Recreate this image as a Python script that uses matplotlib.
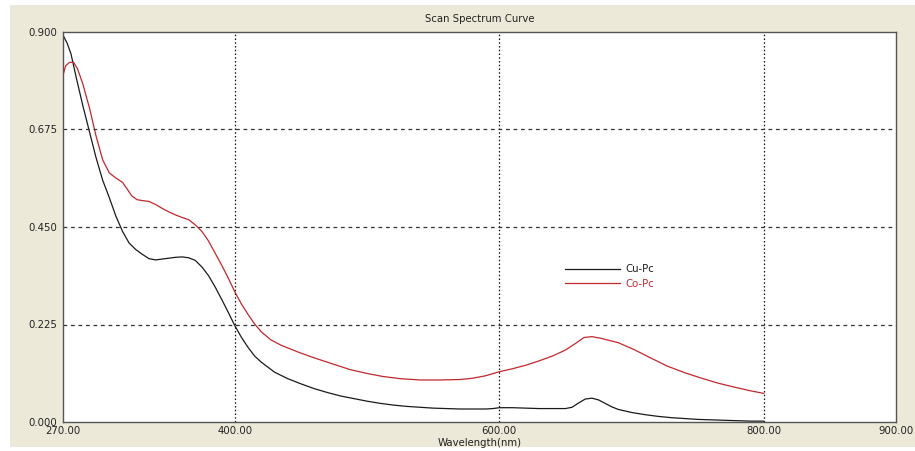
import matplotlib
matplotlib.use("Agg")
import matplotlib.pyplot as plt
from matplotlib.patches import Rectangle
from matplotlib.lines import Line2D

# ---- data ----
cu_wl = [270, 273, 276, 280, 285, 290, 295, 300, 305, 310, 315, 320, 325, 330, 335, 340,
         345, 350, 355, 360, 365, 370, 375, 380, 385, 390, 395, 400, 405, 410, 415, 420,
         430, 440, 450, 460, 470, 480, 490, 500, 510, 520, 530, 540, 550, 560, 570, 580,
         590, 595, 600, 605, 610, 620, 630, 640, 650, 655, 660, 665, 670, 675, 680, 685,
         690, 700, 710, 720, 730, 740, 750, 760, 770, 780, 790, 800]
cu_abs = [0.893, 0.875, 0.850, 0.795, 0.730, 0.670, 0.610, 0.558, 0.518, 0.475, 0.440, 0.413,
          0.398, 0.387, 0.377, 0.374, 0.376, 0.378, 0.380, 0.381, 0.379, 0.373, 0.358, 0.338,
          0.312, 0.283, 0.253, 0.222, 0.195, 0.172, 0.152, 0.138, 0.115, 0.100, 0.088, 0.077,
          0.068, 0.060, 0.054, 0.048, 0.043, 0.039, 0.036, 0.034, 0.032, 0.031, 0.030, 0.030,
          0.030, 0.031, 0.033, 0.033, 0.033, 0.032, 0.031, 0.031, 0.031, 0.034, 0.044, 0.053,
          0.055, 0.051, 0.043, 0.035, 0.029, 0.022, 0.017, 0.013, 0.010, 0.008, 0.006, 0.005,
          0.004, 0.003, 0.002, 0.002]

co_wl = [270, 272, 275, 278, 281, 285, 290, 295, 300, 305, 310, 315, 318, 322, 326, 330,
         335, 340, 345, 350, 355, 360, 365, 370, 375, 380, 385, 390, 395, 400, 405, 410,
         415, 420, 427, 435, 449, 460, 475, 487, 500, 512, 525, 540, 555, 570, 580, 590,
         600, 610, 620, 630, 640, 650, 658, 664, 670, 677, 690, 702, 715, 727, 740, 752,
         765, 777, 790, 800]
co_abs = [0.800, 0.822, 0.830, 0.830, 0.815, 0.780, 0.725, 0.660, 0.605, 0.575, 0.563, 0.553,
          0.540, 0.522, 0.513, 0.511, 0.509, 0.502, 0.493, 0.485, 0.478, 0.472, 0.467, 0.455,
          0.440, 0.418, 0.390, 0.362, 0.332, 0.300, 0.272, 0.248, 0.226, 0.208, 0.190, 0.177,
          0.160, 0.148, 0.133, 0.121, 0.112, 0.105, 0.100, 0.097, 0.097, 0.098, 0.101, 0.107,
          0.116, 0.123, 0.131, 0.141, 0.152, 0.166, 0.182, 0.195, 0.197, 0.193, 0.183, 0.167,
          0.147, 0.129, 0.114, 0.102, 0.090, 0.081, 0.072, 0.066]

x_ticks = [270, 400, 600, 800, 900]
y_ticks = [0.000, 0.225, 0.450, 0.675, 0.900]
series_names = ["Cu-Pc", "Co-Pc"]
series_colors = ["#1a1a1a", "#c0282d"]

# ---- figure ----
plt.rcParams['font.family'] = ['DejaVu Sans']
W, H = 915, 451
fig = plt.figure(figsize=(W / 100, H / 100), dpi=100)
fig.patch.set_facecolor("white")
fig.patches.append(Rectangle((10 / W, 4 / H), 905 / W, 442 / H, transform=fig.transFigure,
                             facecolor="#ece9d8", edgecolor="none", zorder=0))

ax = fig.add_axes([63 / W, (H - 422) / H, (896 - 63) / W, (422 - 32) / H])
ax.set_facecolor("white")
ax.set_zorder(1)

ax.plot(cu_wl, cu_abs, color=series_colors[0], lw=0.9)
ax.plot(co_wl, co_abs, color=series_colors[1], lw=0.9)

ax.set_xlim(x_ticks[0], x_ticks[-1])
ax.set_ylim(y_ticks[0], y_ticks[-1])
ax.set_xticks(x_ticks)
ax.set_yticks(y_ticks)
ax.set_xticklabels([f"{v:.2f}" for v in x_ticks])
ax.set_yticklabels([f"{v:.3f}" for v in y_ticks])
ax.tick_params(length=0, labelsize=7.3, colors="#222222", pad=4)
ax.tick_params(axis="x", pad=3)

for v in x_ticks[1:-1]:
    ax.axvline(v, color="#111111", lw=0.9, ls=(0, (1.2, 1.8)))
for h in y_ticks[1:-1]:
    ax.axhline(h, color="#333333", lw=0.9, ls=(0, (3, 3)))

for s in ax.spines.values():
    s.set_color("#555555")
    s.set_linewidth(1.0)

ax.set_xlabel("Wavelength(nm)", fontsize=7.3, color="#222222", labelpad=1)
ax.set_title("Scan Spectrum Curve", fontsize=7.3, color="#222222", pad=7)

handles = [Line2D([], [], color=c, lw=0.9) for c in series_colors]
leg = ax.legend(handles, series_names, loc="upper left", bbox_to_anchor=(0.603, 0.405),
                frameon=False, fontsize=7.3, handlelength=5.4, handletextpad=0.5,
                labelspacing=0.45, borderpad=0, borderaxespad=0)
for t, c in zip(leg.get_texts(), series_colors):
    t.set_color(c)

fig.savefig("out.png", dpi=100, facecolor=fig.get_facecolor())
